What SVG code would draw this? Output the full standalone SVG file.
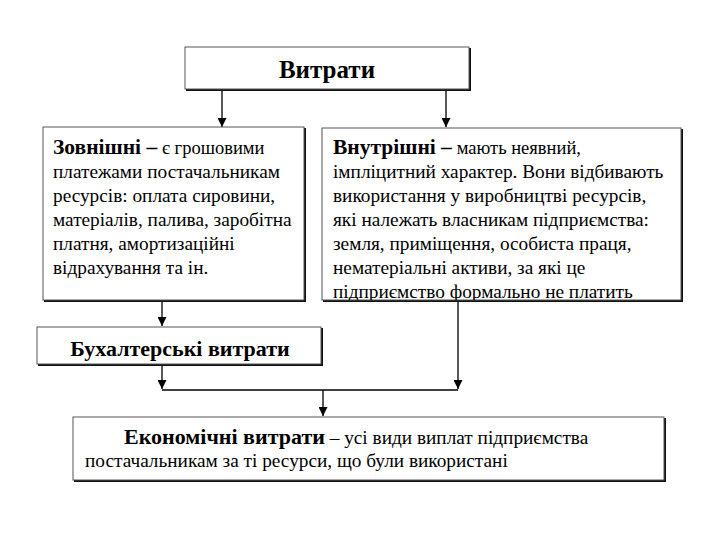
<svg xmlns="http://www.w3.org/2000/svg" width="720" height="540" viewBox="0 0 720 540">
<style>
.box{fill:#fff;stroke:#555;stroke-width:1}
.sh{fill:#111}
text{font-family:"Liberation Serif","DejaVu Serif","Times New Roman",serif;fill:#000}
.t{font-size:19.3px}
.b{font-weight:bold}
.ln{stroke:#000;stroke-width:1.3;fill:none}
</style>
<defs>
<marker id="ad" markerWidth="9" markerHeight="9" refX="4.5" refY="9" orient="0" markerUnits="userSpaceOnUse" viewBox="0 0 9 9">
<path d="M0,0 L9,0 L4.5,9 Z" fill="#000"/>
</marker>
<clipPath id="cr"><rect x="322" y="128" width="360" height="172"/></clipPath>
</defs>
<rect width="720" height="540" fill="#fff"/>
<g id="connectors">
<line class="ln" x1="222" y1="90" x2="222" y2="127" marker-end="url(#ad)"/>
<line class="ln" x1="446" y1="90" x2="446" y2="127" marker-end="url(#ad)"/>
<line class="ln" x1="162" y1="302" x2="162" y2="326" marker-end="url(#ad)"/>
<line class="ln" x1="162" y1="366" x2="162" y2="389" marker-end="url(#ad)"/>
<line class="ln" x1="458" y1="302" x2="458" y2="389" marker-end="url(#ad)"/>
<line class="ln" x1="162" y1="390" x2="458" y2="390"/>
<line class="ln" x1="323" y1="390" x2="323" y2="416" marker-end="url(#ad)"/>
</g>
<g id="vytraty">
<rect class="sh" x="186" y="48" width="285" height="43"/>
<rect class="box" x="185" y="47" width="284" height="42"/>
<text class="b" x="327" y="78" style="font-size:25px" text-anchor="middle">Витрати</text>
</g>
<g id="zovnishni">
<rect class="sh" x="44" y="128" width="262" height="174"/>
<rect class="box" x="43" y="127" width="261" height="173"/>
<text class="t" x="53" y="154"><tspan class="b" style="font-size:21.5px">Зовнішні –</tspan> <tspan style="font-size:18.5px">є грошовими</tspan></text>
<text class="t" x="53" y="178">платежами постачальникам</text>
<text class="t" x="53" y="202">ресурсів: оплата сировини,</text>
<text class="t" x="53" y="226">матеріалів, палива, заробітна</text>
<text class="t" x="53" y="250">платня, амортизаційні</text>
<text class="t" x="53" y="274">відрахування та ін.</text>
</g>
<g id="vnutrishni">
<rect class="sh" x="323" y="129" width="360" height="173"/>
<rect class="box" x="322" y="128" width="359" height="172"/>
<g clip-path="url(#cr)">
<text class="t" x="333" y="154"><tspan class="b" style="font-size:21.5px">Внутрішні –</tspan> <tspan style="font-size:18.5px">мають неявний,</tspan></text>
<text class="t" x="333" y="178">імпліцитний характер. Вони відбивають</text>
<text class="t" x="333" y="202">використання у виробництві ресурсів,</text>
<text class="t" x="333" y="226">які належать власникам підприємства:</text>
<text class="t" x="333" y="250">земля, приміщення, особиста праця,</text>
<text class="t" x="333" y="274">нематеріальні активи, за які це</text>
<text class="t" x="333" y="298">підприємство формально не платить</text>
</g>
</g>
<g id="bukhalterski">
<rect class="sh" x="38" y="328" width="285" height="38"/>
<rect class="box" x="37" y="327" width="284" height="37"/>
<text class="b" x="180" y="356" style="font-size:22px" text-anchor="middle">Бухалтерські витрати</text>
</g>
<g id="ekonomichni">
<rect class="sh" x="74" y="418" width="592" height="64"/>
<rect class="box" x="73" y="417" width="591" height="63"/>
<text class="t" x="124" y="444"><tspan class="b" style="font-size:22px">Економічні витрати</tspan> – усі види виплат підприємства</text>
<text class="t" x="85" y="467">постачальникам за ті ресурси, що були використані</text>
</g>
</svg>
